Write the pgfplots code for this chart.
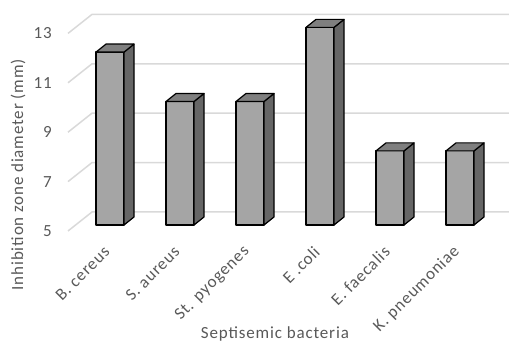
\documentclass[border=0pt]{standalone}
\usepackage{pgfplots}
\pgfplotsset{compat=1.18}
\usepackage{pgfplotstable}
\usepackage{fontspec}
\setmainfont{Carlito}[LetterSpace=5]

\definecolor{txt}{HTML}{595959}
\definecolor{gridc}{HTML}{D9D9D9}
\definecolor{frontc}{HTML}{A5A5A5}
\definecolor{topc}{HTML}{7F7F7F}
\definecolor{sidec}{HTML}{666666}

% an empty mark: the scatter code below draws each box itself
\pgfdeclareplotmark{void}{}

% inhibition zone diameter (mm) per organism
\pgfplotstableread{
idx val
0 12
1 10
2 10
3 13
4 8
5 8
}\zones

\newcommand\lblfont{\fontsize{17}{20}\selectfont}

\begin{document}
\begin{tikzpicture}
\useasboundingbox (0,0) rectangle (509pt,344pt);
\begin{axis}[
  at={(75pt,119pt)}, anchor=south west,
  scale only axis, width=420pt, height=197.6pt,
  xmin=-0.5, xmax=5.5, ymin=5, ymax=13,
  clip=false,
  axis line style={draw=none},
  tick style={draw=none},
  major tick length=0pt,
  xtick={0,...,5},
  xticklabels={B. cereus, S. aureus, St. pyogenes, E .coli, E. faecalis, K. pneumoniae},
  ytick={5,7,9,11,13},
  /pgf/number format/assume math mode=true,
  xticklabel style={font=\lblfont, text=txt, inner sep=0pt,
    xshift=-3pt, yshift=-24pt, rotate=45, anchor=east},
  yticklabel style={font=\lblfont, text=txt, anchor=east,
    inner sep=0pt, xshift=-23pt, yshift=-6pt},
  xlabel={Septisemic bacteria},
  ylabel={Inhibition zone diameter (mm)},
  xlabel style={font=\lblfont, text=txt,
    at={([yshift=-114pt]axis description cs:0.476,0)}, anchor=base},
  ylabel style={font=\lblfont, text=txt,
    at={([xshift=-57pt]axis description cs:0,0.255)}, anchor=center},
]

% side wall and back wall gridlines
\pgfplotsinvokeforeach{5,7,9,11,13}{
  \draw[gridc, line width=1.5pt]
    ([shift={(-7pt,-6pt)}]axis cs:-0.5,#1)
    -- ([shift={(17pt,13pt)}]axis cs:-0.5,#1)
    -- ([shift={(17pt,13pt)}]axis cs:5.5,#1);
}

% 3-D columns: front face, right side and top, drawn at each data point
\addplot[scatter, only marks, mark=void,
  visualization depends on={\thisrow{val} \as \val},
  scatter/@pre marker code/.code={%
    \pgfmathsetlengthmacro\h{(\val-5)*24.7pt}%
    \filldraw[fill=frontc, draw=black, line width=1.2pt, line join=round]
      (-14pt,0pt) rectangle (14pt,-\h);
    \filldraw[fill=sidec, draw=black, line width=1.2pt, line join=round]
      (14pt,0pt) -- (24pt,8pt) -- ({24pt},{8pt-\h}) -- ({14pt},{-\h}) -- cycle;
    \filldraw[fill=topc, draw=black, line width=1.2pt, line join=round]
      (-14pt,0pt) -- (-4pt,8pt) -- (24pt,8pt) -- (14pt,0pt) -- cycle;
  },
  scatter/@post marker code/.code={},
] table[x=idx, y=val] {\zones};

\end{axis}
\end{tikzpicture}
\end{document}
